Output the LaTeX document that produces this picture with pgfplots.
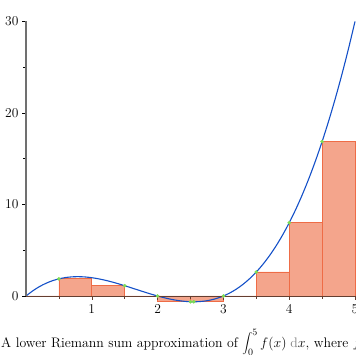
\documentclass[border=0pt]{standalone}
\usepackage{fix-cm}
\usepackage{fontspec}
\usepackage{pgfplots}
\pgfplotsset{compat=1.18}
\definecolor{barfill}{RGB}{244,165,140}
\definecolor{baredge}{RGB}{238,108,70}
\definecolor{curve}{RGB}{20,80,200}
\definecolor{mk}{RGB}{125,220,85}
\definecolor{xaxis}{RGB}{100,62,48}
\definecolor{yaxis}{RGB}{112,112,112}
\begin{document}
\begin{tikzpicture}[x=1pt,y=1pt]
\begin{axis}[
  at={(26pt,59pt)}, anchor=south west,
  scale only axis, width=329pt, height=274.5pt,
  xmin=0, xmax=5, ymin=0, ymax=30,
  axis lines=left,
  axis line style={-},
  axis on top,
  x axis line style={draw=xaxis, line width=0.9pt},
  y axis line style={draw=yaxis, line width=1.1pt},
  xtick={1,2,3,4,5}, minor xtick={0.5,1.5,2.5,3.5,4.5},
  ytick={0,10,20,30}, minor ytick={5,15,25},
  tick align=outside,
  major tick length=4pt, minor tick length=3pt,
  x tick style={draw=xaxis, line width=0.6pt},
  y tick style={draw=black, line width=0.6pt},
  tick label style={font=\fontsize{13.5}{15}\selectfont, black},
  /pgf/number format/assume math mode=true,
  xticklabel style={yshift=-1pt},
  clip=false,
]
\addplot[ybar interval, fill=barfill, draw=baredge, line width=0.8pt] coordinates {
 (0,0) (0.5,1.875) (1,1.125) (1.5,0) (2,-0.625) (2.5,-0.631) (3,0) (3.5,2.625) (4,8) (4.5,16.875) (5,16.875)};
\addplot[smooth, curve, line width=1.1pt] coordinates {
 (0,0) (0.1,0.551) (0.2,1.008) (0.3,1.377) (0.4,1.664) (0.5,1.875) (0.6,2.016) (0.7,2.093) (0.8,2.112) (0.9,2.079)
 (1,2) (1.1,1.881) (1.2,1.728) (1.3,1.547) (1.4,1.344) (1.5,1.125) (1.6,0.896) (1.7,0.663) (1.8,0.432) (1.9,0.209)
 (2,0) (2.1,-0.189) (2.2,-0.352) (2.3,-0.483) (2.4,-0.576) (2.5,-0.625) (2.6,-0.624) (2.7,-0.567) (2.8,-0.448) (2.9,-0.261)
 (3,0) (3.1,0.341) (3.2,0.768) (3.3,1.287) (3.4,1.904) (3.5,2.625) (3.6,3.456) (3.7,4.403) (3.8,5.472) (3.9,6.669)
 (4,8) (4.1,9.471) (4.2,11.088) (4.3,12.857) (4.4,14.784) (4.5,16.875) (4.6,19.136) (4.7,21.573) (4.8,24.192) (4.9,26.999) (5,30)};
\addplot[only marks, mark=*, mark size=1.6pt, mk, mark options={draw=mk, fill=mk}] coordinates {
 (0.5,1.875) (1.5,1.125) (2,0) (2.5,-0.625) (2.55,-0.631) (3,0) (3.5,2.625) (4,8) (4.5,16.875)};
\end{axis}
\node[anchor=base west, inner sep=0pt, font=\fontsize{13.8}{16}\selectfont] at (1pt,8pt)
  {A lower Riemann sum approximation of $\displaystyle\int_0^5 f(x)\;{\color{gray}\mathrm{d}}x$, where $f$ is a cubic};
\pgfresetboundingbox
\useasboundingbox (0,0) rectangle (355pt,355pt);
\end{tikzpicture}
\end{document}
